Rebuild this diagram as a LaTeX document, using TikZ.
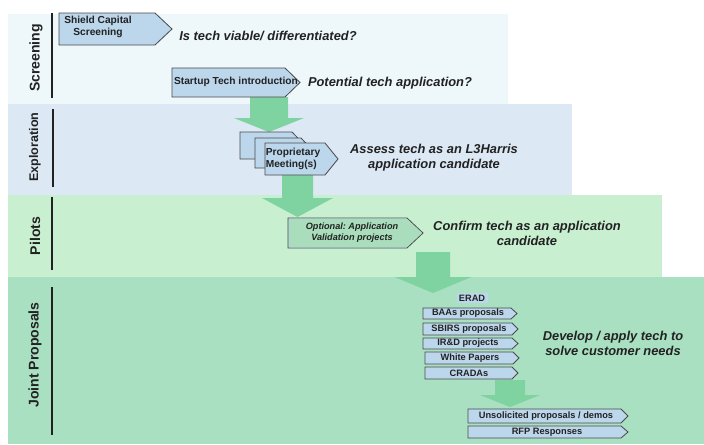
\documentclass[tikz,border=0pt]{standalone}
\usepackage{fontspec}
\setmainfont{Liberation Sans}
\usepackage{xcolor}
\usepackage{tikz}
\usetikzlibrary{calc}
\frenchspacing
\definecolor{ink}{HTML}{222222}
\definecolor{edge}{HTML}{4A4A4A}
\definecolor{bandA}{HTML}{EEF8FA}
\definecolor{bandB}{HTML}{DDE8F5}
\definecolor{bandC}{HTML}{C7EFD0}
\definecolor{bandD}{HTML}{A9E0C2}
\definecolor{boxblue}{HTML}{BCD6EC}
\definecolor{boxgreen}{HTML}{A9DDBB}
\definecolor{flowgreen}{HTML}{7FD3A1}
\tikzset{
  band/.style={draw=none},
  bar/.style={draw=ink, line width=1.7pt},
  stage/.style={text=ink, font=\fontsize{12}{14}\selectfont\bfseries, rotate=90},
  sig/.style={draw=edge, fill=boxblue, line width=0.7pt},
  flow/.style={fill=flowgreen},
  boxtxt/.style={text=ink, font=\fontsize{8.7}{9.6}\selectfont\bfseries, align=center, inner sep=0pt},
  itemtxt/.style={text=ink, font=\fontsize{7.9}{9}\selectfont\bfseries, inner sep=0pt},
  question/.style={text=ink, font=\fontsize{11}{12.8}\selectfont\bfseries\itshape, align=center, inner sep=0pt}
}
% signal box: name, x1, y1, x2, y2, tip length
\newcommand{\sigbox}[6]{%
  \draw[sig] (#2,#3) -- (#4-#6,#3) -- (#4,{(#3+#5)/2}) -- (#4-#6,#5) -- (#2,#5) -- cycle;
  \coordinate (#1) at ({(#2+#4-#6)/2},{(#3+#5)/2});}
% block arrow: x, top, neck, tip, half shaft, half head
\newcommand{\flowarrow}[6]{%
  \fill[flow] (#1-#5,#2) -- (#1+#5,#2) -- (#1+#5,#3) -- (#1+#6,#3) -- (#1,#4)
    -- (#1-#6,#3) -- (#1-#5,#3) -- cycle;}

\begin{document}
\begin{tikzpicture}[x=0.03cm, y=-0.03cm]
  \useasboundingbox (0,0) rectangle (704,444);

  % stage bands
  \fill[bandA] (8,14) rectangle (508,104);
  \fill[bandB] (8,104) rectangle (572,195);
  \fill[bandC] (8,195) rectangle (662,277);
  \fill[bandD] (8,277) rectangle (704,444);

  % stage labels
  \node[stage] (screening) at (36,58) {Screening};
  \node[stage, font=\fontsize{10.7}{12}\selectfont\bfseries] (exploration) at (35,147) {Exploration};
  \node[stage] (pilots) at (35,236) {Pilots};
  \node[stage] (joint) at (35,355) {Joint Proposals};
  \draw[bar] (52,13) -- (52,98);
  \draw[bar] (53,109) -- (53,187);
  \draw[bar] (52,197) -- (52,270);
  \draw[bar] (52,287) -- (52,435);

  % flow arrows between stages
  \flowarrow{269}{97}{118}{132}{19}{35}
  \flowarrow{297.5}{175}{198}{217}{15.5}{35.5}
  \flowarrow{433}{252}{277}{293}{17}{38.5}
  \flowarrow{510}{380}{395}{407}{15}{30}

  % screening
  \sigbox{shield}{59}{13}{172}{45}{17}
  \node[boxtxt] (shieldtxt) at (98,27) {Shield Capital\\Screening};
  \sigbox{startup}{172}{68}{300}{97}{15}
  \node[boxtxt] (startuptxt) at (236,82) {Startup Tech introduction};
  \node[question] (viable) at (268,36) {Is tech viable/ differentiated?};
  \node[question] (potential) at (390,83) {Potential tech application?};

  % exploration
  \sigbox{meetA}{240}{132}{305}{159}{13}
  \sigbox{meetB}{255}{138}{315}{168}{14}
  \sigbox{meetC}{265}{143}{338}{175}{13}
  \node[boxtxt, align=left] (meettxt) at (293,159) {Proprietary\\Meeting(s)};
  \node[question] (assess) at (434,158) {Assess tech as an L3Harris\\application candidate};

  % pilots
  \sigbox{optional}{288}{218}{423}{248}{16}
  \fill[boxgreen] (289,218.6) -- (406.5,218.6) -- (422,233) -- (406.5,247.4) -- (289,247.4) -- cycle;
  \node[boxtxt, font=\fontsize{7.8}{9.4}\selectfont\bfseries\itshape] (optionaltxt) at (352,233)
    {Optional: Application\\Validation projects};
  \node[question] (confirm) at (527,233) {Confirm tech as an application\\candidate};

  % joint proposals
  \fill[boxblue] (457,293) rectangle (488,303);
  \node[itemtxt] (erad) at (472,298) {ERAD};
  \sigbox{baa}{423}{308}{517}{319}{6}
  \node[itemtxt] (baatxt) at (468,313.5) {BAAs proposals};
  \sigbox{sbirs}{423}{323}{518}{335}{6}
  \node[itemtxt] (sbirstxt) at (469,329) {SBIRS proposals};
  \sigbox{ird}{423}{338}{518}{349}{6}
  \node[itemtxt] (irdtxt) at (468,343.5) {IR\&D projects};
  \sigbox{white}{425}{352}{519}{364}{6}
  \node[itemtxt] (whitetxt) at (470,358) {White Papers};
  \sigbox{crada}{425}{367}{518}{379}{6}
  \node[itemtxt] (cradatxt) at (469,373) {CRADAs};
  \node[question] (develop) at (613,343) {Develop / apply tech to\\solve customer needs};
  \sigbox{unsol}{468}{409}{628}{423}{7}
  \node[itemtxt] (unsoltxt) at (546,416) {Unsolicited proposals / demos};
  \sigbox{rfp}{468}{426}{628}{438}{7}
  \node[itemtxt] (rfptxt) at (547,432) {RFP Responses};
\end{tikzpicture}
\end{document}
